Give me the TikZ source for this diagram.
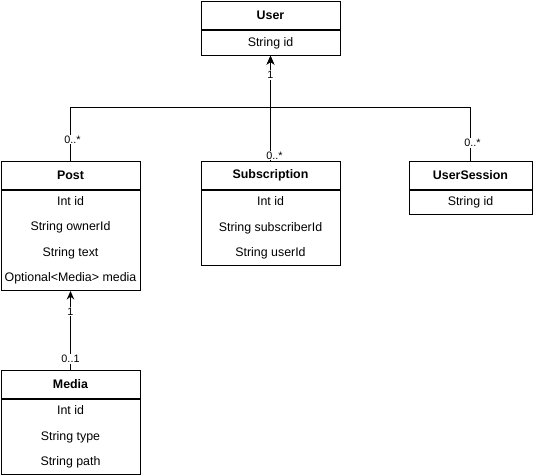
\documentclass[tikz,border=0pt]{standalone}
\usepackage{fontspec}
\setmainfont{Liberation Sans}
\usepackage{tikz}
\usetikzlibrary{positioning}
\usetikzlibrary{arrows.meta}

\begin{document}
\begin{tikzpicture}[x=1pt, y=-1pt, line width=1pt,
	head/.style={draw, inner sep=0pt, minimum height=28pt, font=\fontsize{12.4}{14}\selectfont\bfseries},
	fields/.style={draw, inner sep=0pt, align=center, font=\fontsize{12.4}{25.5}\selectfont},
	mult/.style={fill=white, inner sep=1pt, font=\fontsize{10.8}{12}\selectfont},
	assoc/.style={-{Stealth[length=8.5pt, width=7.5pt]}}]
\useasboundingbox (0,0) rectangle (541,475);

\node[head, anchor=north, minimum width=139pt] (user-head) at (270.5,1) {User};
\node[fields, below=0pt of user-head, minimum width=139pt, minimum height=25pt] (user-body) {String id};

\node[head, anchor=north, minimum width=139pt] (post-head) at (70.5,161) {Post};
\node[fields, below=0pt of post-head, minimum width=139pt, minimum height=100pt] (post-body)
	{Int id\\String ownerId\\String text\\Optional<Media> media};

\node[head, anchor=north, minimum width=139pt] (sub-head) at (270.5,161) {Subscription};
\node[fields, below=0pt of sub-head, minimum width=139pt, minimum height=75pt] (sub-body)
	{Int id\\String subscriberId\\String userId};

\node[head, anchor=north, minimum width=123pt] (session-head) at (470.5,161) {UserSession};
\node[fields, below=0pt of session-head, minimum width=123pt, minimum height=24pt] (session-body) {String id};

\node[head, anchor=north, minimum width=139pt] (media-head) at (70.5,370) {Media};
\node[fields, below=0pt of media-head, minimum width=139pt, minimum height=75pt] (media-body)
	{Int id\\String type\\String path};

\coordinate (join) at (270.5,107);

\draw[assoc] (post-head.north) |- node[mult, pos=0.2, xshift=2pt] {0..*} (join) -| (user-body.south);
\draw[assoc] (session-head.north) |- node[mult, pos=0.167, xshift=2pt] {0..*} (join) -| (user-body.south);
\path[assoc]
(sub-head.north) edge node[mult, pos=0.054, xshift=4pt] {0..*}
		node[mult, pos=0.82] {1} (user-body.south);
\path[assoc]
(media-head.north) edge node[mult, pos=0.136] {0..1}
		node[mult, pos=0.74] {1} (post-body.south);
\end{tikzpicture}
\end{document}
